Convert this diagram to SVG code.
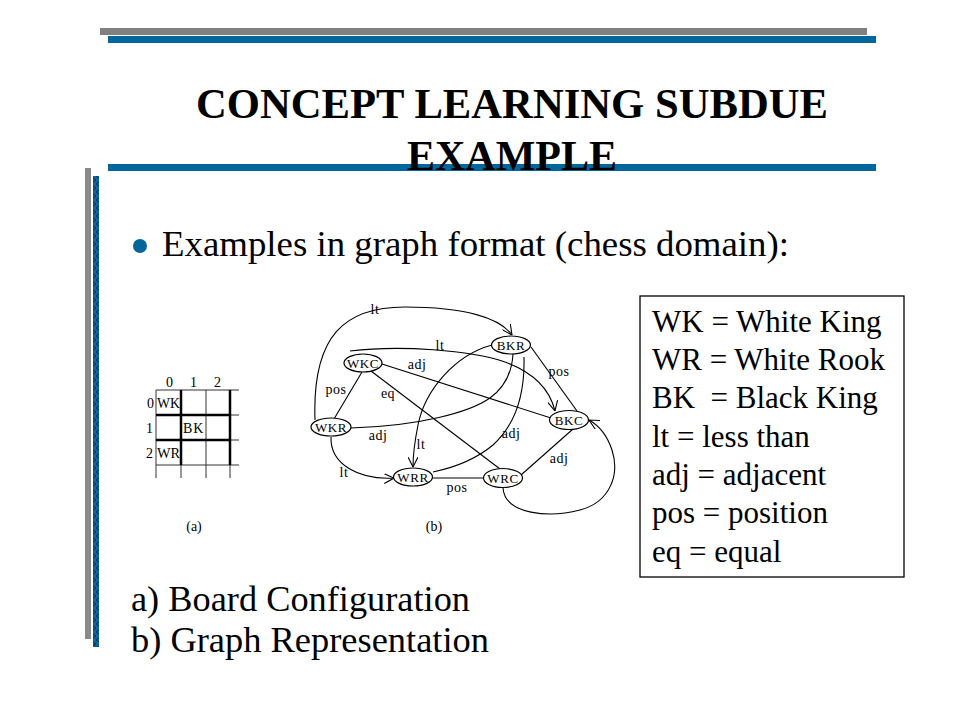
<svg xmlns="http://www.w3.org/2000/svg" width="960" height="720" viewBox="0 0 960 720">
<style>
.title{font-family:"Liberation Serif","Times New Roman",serif;font-weight:bold;font-size:42px;fill:#000;text-anchor:middle}
.body{font-family:"Liberation Serif","Times New Roman",serif;font-size:36px;fill:#000}
.legend{font-family:"Liberation Serif","Times New Roman",serif;font-size:31px;fill:#000}
.node ellipse{fill:#fff;stroke:#000;stroke-width:1.2}
.node text{font-family:"Liberation Serif","Times New Roman",serif;font-size:13px;letter-spacing:0.6px;text-anchor:middle;fill:#000}
.edge{fill:none;stroke:#000;stroke-width:1.1}
.lbl{font-family:"Liberation Serif","Times New Roman",serif;font-size:14px;letter-spacing:0.5px;fill:#000;text-anchor:middle}
.gl{font-family:"Liberation Serif","Times New Roman",serif;font-size:14px;fill:#000}
.thin{stroke:#333;stroke-width:1;fill:none}
.thick{stroke:#000;stroke-width:2.5;fill:none}
</style>
<defs>
<marker id="arr" viewBox="0 0 10 10" refX="10" refY="5" markerWidth="10" markerHeight="10" markerUnits="userSpaceOnUse" orient="auto">
<path d="M0,0 L10,5 L0,10" fill="none" stroke="#000" stroke-width="1.1"/>
</marker>
<pattern id="hatch" width="6" height="8" patternUnits="userSpaceOnUse">
<rect width="6" height="8" fill="#0a6699"/>
<path d="M0,0 L6,4 L0,8" fill="none" stroke="#0b2a44" stroke-width="1"/>
</pattern>
</defs>
<rect width="960" height="720" fill="#fff"/>
<g id="decor">
<rect x="100" y="28" width="767" height="7" fill="#808080"/>
<rect x="108" y="36" width="768" height="7" fill="#00669b"/>
<rect x="108" y="164" width="768" height="7" fill="#00669b"/>
<rect x="85" y="168" width="6" height="471" fill="#8a8a8a"/>
<rect x="93" y="176" width="6" height="471" fill="url(#hatch)"/>
</g>
<g id="title">
<text class="title" x="512" y="118" textLength="632" lengthAdjust="spacingAndGlyphs">CONCEPT LEARNING SUBDUE</text>
<text class="title" x="512" y="170">EXAMPLE</text>
</g>
<g id="bullet">
<circle cx="140" cy="246" r="7" fill="#00669b"/>
<text class="body" x="162" y="256" textLength="627" lengthAdjust="spacingAndGlyphs">Examples in graph format (chess domain):</text>
</g>
<g id="board">
<line class="thin" x1="156" y1="390" x2="239" y2="390"/>
<line class="thin" x1="156" y1="465" x2="239" y2="465"/>
<line class="thin" x1="230" y1="415" x2="239" y2="415"/>
<line class="thin" x1="230" y1="440" x2="239" y2="440"/>
<line class="thin" x1="156" y1="390" x2="156" y2="478"/>
<line class="thin" x1="206" y1="390" x2="206" y2="478"/>
<line class="thin" x1="181" y1="465" x2="181" y2="478"/>
<line class="thin" x1="230" y1="465" x2="230" y2="478"/>
<line class="thick" x1="181" y1="390" x2="181" y2="465"/>
<line class="thick" x1="230" y1="390" x2="230" y2="465"/>
<line class="thick" x1="156" y1="415" x2="230" y2="415"/>
<line class="thick" x1="156" y1="440" x2="230" y2="440"/>
<text class="gl" x="166" y="387">0</text>
<text class="gl" x="190" y="387">1</text>
<text class="gl" x="214" y="387">2</text>
<text class="gl" x="147" y="408">0</text>
<text class="gl" x="146" y="433">1</text>
<text class="gl" x="146" y="458">2</text>
<text class="gl" x="157" y="408" textLength="23" lengthAdjust="spacingAndGlyphs">WK</text>
<text class="gl" x="183" y="433" letter-spacing="1">BK</text>
<text class="gl" x="157" y="458" textLength="23" lengthAdjust="spacingAndGlyphs">WR</text>
<text class="gl" x="194" y="531" text-anchor="middle">(a)</text>
</g>
<g id="connectors">
<path class="edge" d="M315,420 C312,335 345,307 405,307 C465,307 500,318 512,335" marker-end="url(#arr)"/>
<path class="edge" d="M350,351 C400,345 470,350 505,362 C535,373 550,390 555,411" marker-end="url(#arr)"/>
<path class="edge" d="M382,364 L551,418"/>
<path class="edge" d="M362,372 L334,419"/>
<path class="edge" d="M371,371 L500,469"/>
<path class="edge" d="M351,428 C420,426 470,412 490,398 C505,387 512,372 513,354"/>
<path class="edge" d="M492,345 C455,355 425,390 418,425 C415,440 413,452 413,467" marker-end="url(#arr)"/>
<path class="edge" d="M524,357 C525,395 515,425 493,445 C475,460 452,468 433,472"/>
<path class="edge" d="M531,347 L577,411"/>
<path class="edge" d="M331,437 C330,465 360,480 394,478" marker-end="url(#arr)"/>
<path class="edge" d="M433,478 L484,478"/>
<path class="edge" d="M521,475 L573,429"/>
<path class="edge" d="M503,488 C505,515 550,518 580,510 C610,502 620,475 612,450 C607,435 598,425 589,420" marker-end="url(#arr)"/>
<text class="lbl" x="375" y="314">lt</text>
<text class="lbl" x="440" y="350">lt</text>
<text class="lbl" x="417" y="369">adj</text>
<text class="lbl" x="336" y="394">pos</text>
<text class="lbl" x="388" y="398">eq</text>
<text class="lbl" x="378" y="440">adj</text>
<text class="lbl" x="421" y="449">lt</text>
<text class="lbl" x="511" y="438">adj</text>
<text class="lbl" x="559" y="376">pos</text>
<text class="lbl" x="344" y="477">lt</text>
<text class="lbl" x="457" y="492">pos</text>
<text class="lbl" x="559" y="463">adj</text>
</g>
<g id="node-BKR" class="node"><ellipse cx="511" cy="345" rx="19.5" ry="9"/><text x="511" y="350">BKR</text></g>
<g id="node-WKC" class="node"><ellipse cx="363" cy="363" rx="19" ry="9"/><text x="363" y="368">WKC</text></g>
<g id="node-BKC" class="node"><ellipse cx="569" cy="420" rx="19.5" ry="9.5"/><text x="569" y="425">BKC</text></g>
<g id="node-WKR" class="node"><ellipse cx="331" cy="427" rx="20" ry="9"/><text x="331" y="432">WKR</text></g>
<g id="node-WRR" class="node"><ellipse cx="413" cy="477" rx="19.5" ry="9"/><text x="413" y="482">WRR</text></g>
<g id="node-WRC" class="node"><ellipse cx="503" cy="478" rx="19.5" ry="9.5"/><text x="503" y="483">WRC</text></g>
<text class="gl" x="434" y="531" text-anchor="middle">(b)</text>
<g id="legend">
<rect x="640" y="296" width="264" height="281" fill="#fff" stroke="#000" stroke-width="1.3"/>
<text class="legend" x="652" y="332">WK = White King</text>
<text class="legend" x="652" y="370">WR = White Rook</text>
<text class="legend" x="652" y="408" xml:space="preserve">BK  = Black King</text>
<text class="legend" x="652" y="447">lt = less than</text>
<text class="legend" x="652" y="485">adj = adjacent</text>
<text class="legend" x="652" y="523">pos = position</text>
<text class="legend" x="652" y="562">eq = equal</text>
</g>
<g id="captions">
<text class="body" x="131" y="611" textLength="339" lengthAdjust="spacingAndGlyphs">a) Board Configuration</text>
<text class="body" x="131" y="652" textLength="358" lengthAdjust="spacingAndGlyphs">b) Graph Representation</text>
</g>
</svg>
